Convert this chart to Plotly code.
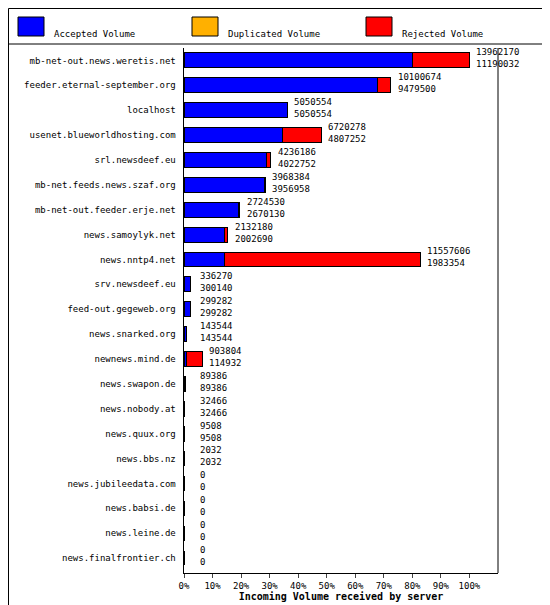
import plotly.graph_objects as go

servers = ["mb-net-out.news.weretis.net","feeder.eternal-september.org","localhost",
"usenet.blueworldhosting.com","srl.newsdeef.eu","mb-net.feeds.news.szaf.org",
"mb-net-out.feeder.erje.net","news.samoylyk.net","news.nntp4.net","srv.newsdeef.eu",
"feed-out.gegeweb.org","news.snarked.org","newnews.mind.de","news.swapon.de",
"news.nobody.at","news.quux.org","news.bbs.nz","news.jubileedata.com","news.babsi.de",
"news.leine.de","news.finalfrontier.ch"]
total = [13962170,10100674,5050554,6720278,4236186,3968384,2724530,2132180,11557606,
336270,299282,143544,903804,89386,32466,9508,2032,0,0,0,0]
accepted = [11190032,9479500,5050554,4807252,4022752,3956958,2670130,2002690,1983354,
300140,299282,143544,114932,89386,32466,9508,2032,0,0,0,0]
duplicated = [0]*len(servers)
legend_names = ["Accepted Volume", "Duplicated Volume", "Rejected Volume"]
legend_colors = ["#0000ff", "#ffb000", "#ff0000"]

mx = max(total)
acc_pct = [a/mx*100 for a in accepted]
dup_pct = [d/mx*100 for d in duplicated]
rej_pct = [(t-a-d)/mx*100 for t,a,d in zip(total,accepted,duplicated)]

FONT = "DejaVu Sans Mono"
L, R, T, B, W, H = 176, 60, 40, 40, 550, 605
PW, PH = W-L-R, H-T-B
def px(x): return (x-L)/PW
def py(y): return (H-B-y)/PH

fig = go.Figure()
for vals, name, col in zip([acc_pct, dup_pct, rej_pct], legend_names, legend_colors):
    fig.add_bar(y=servers, x=vals, orientation="h", name=name, showlegend=False,
                marker=dict(color=col, line=dict(color="black", width=1)))

for s, t, a in zip(servers, total, accepted):
    fig.add_annotation(x=max(t/mx*100, 3), y=s, text=f"{t}<br>{a}", showarrow=False,
                       xanchor="left", xshift=5, yshift=2, align="left",
                       font=dict(family=FONT, size=9, color="black"))

# legend
for i, (name, col) in enumerate(zip(legend_names, legend_colors)):
    x0 = 10 + i*174
    fig.add_shape(type="rect", xref="paper", yref="paper", x0=px(x0), x1=px(x0+26),
                  y0=py(28), y1=py(9), fillcolor=col, line=dict(color="black", width=1))
    fig.add_annotation(xref="paper", yref="paper", x=px(x0+34), y=py(19), text=name,
                       showarrow=False, xanchor="left", font=dict(family=FONT, size=9))

# frame and legend separator
fig.add_shape(type="rect", xref="paper", yref="paper", x0=px(0.5), x1=px(W-1),
              y0=py(H-1), y1=py(0.5), line=dict(color="black", width=1))
fig.add_shape(type="line", xref="paper", yref="paper", x0=px(0), x1=px(W),
              y0=py(36), y1=py(36), line=dict(color="black", width=1))
fig.add_shape(type="line", xref="paper", yref="paper", x0=1, x1=1, y0=0, y1=1,
              line=dict(color="black", width=1))

fig.update_layout(
    barmode="stack", bargap=0.4,
    width=W, height=H, paper_bgcolor="white", plot_bgcolor="white",
    margin=dict(l=L, r=R, t=T, b=B, autoexpand=False),
    font=dict(family=FONT, size=9, color="black"),
    showlegend=False,
    xaxis=dict(range=[0, 110], tickvals=list(range(0, 101, 10)),
               ticktext=[f"{v}%" for v in range(0, 101, 10)], showgrid=False,
               showline=True, linecolor="black", ticks="outside", ticklen=4,
               title=dict(text="<b>Incoming Volume received by server</b>", standoff=2,
                          font=dict(family=FONT, size=10))),
    yaxis=dict(autorange="reversed", showline=True, linecolor="black", showgrid=False,
               ticks="", ticksuffix=" ", tickfont=dict(family=FONT, size=9)),
)
fig.write_html("out.html")
